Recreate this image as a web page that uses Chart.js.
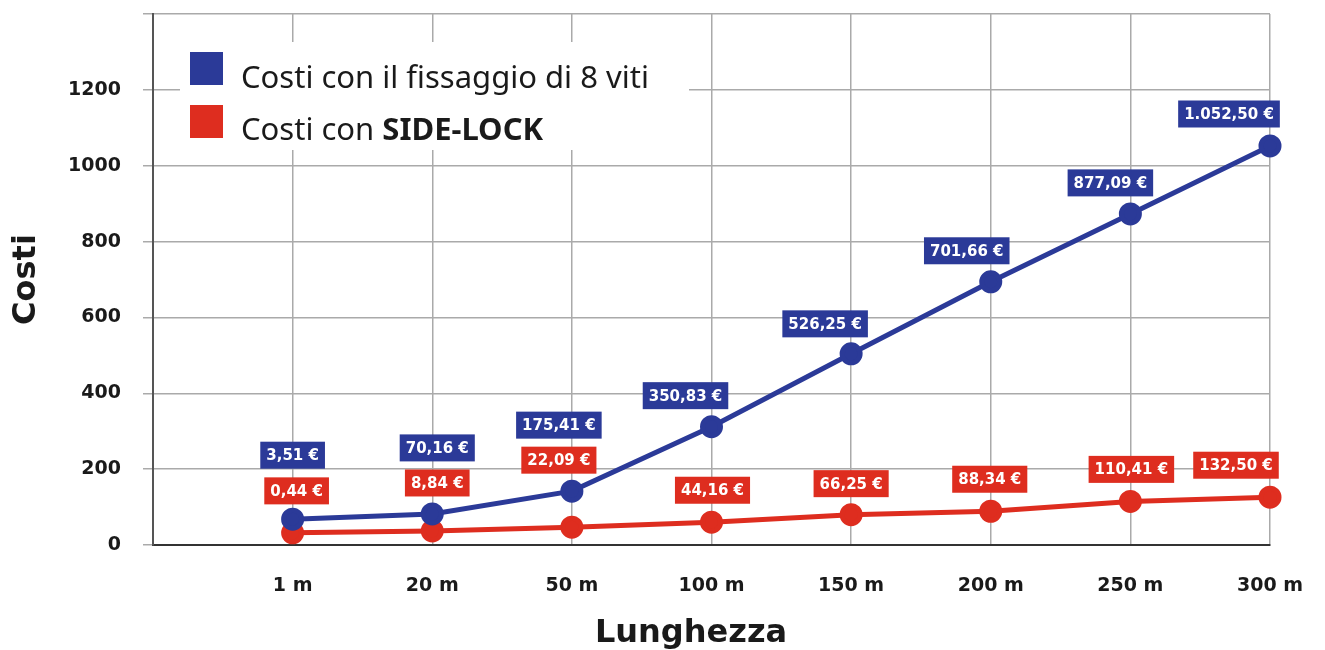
<!DOCTYPE html>
<html>
<head>
<meta charset="utf-8">
<script src="https://cdn.jsdelivr.net/npm/chart.js@4.4.1/dist/chart.umd.min.js"></script>
<style>
  html, body { margin: 0; padding: 0; background: #fff; }
  #wrap { width: 1325px; height: 650px; }
</style>
</head>
<body>
<div id="wrap"><canvas id="costChart" width="1325" height="650"></canvas></div>
<script>
// categories (first slot is empty so the first point sits one step in from the y axis)
const lengths = ["", "1 m", "20 m", "50 m", "100 m", "150 m", "200 m", "250 m", "300 m"];

// values
const screwCosts = [null, 68, 82, 142, 312, 504, 694, 873, 1052];
const sideLockCosts = [null, 32, 37, 47, 60, 80, 89, 115, 126];

// printed labels
const screwLabels = ["", "3,51 €", "70,16 €", "175,41 €", "350,83 €", "526,25 €", "701,66 €", "877,09 €", "1.052,50 €"];
const sideLockLabels = ["", "0,44 €", "8,84 €", "22,09 €", "44,16 €", "66,25 €", "88,34 €", "110,41 €", "132,50 €"];

const BLUE = "#2b3a98";
const RED = "#de2d1f";
const BOLD = "'DejaVu Sans', sans-serif";

// label box shift from its point [dx, dy]
const screwShift = [null, [0, -64], [5, -66], [-13, -66], [-26, -31], [-26, -30], [-24, -31], [-20, -31], [-41, -32]];
const sideLockShift = [null, [4, -42], [5, -48], [-13, -67], [1, -32], [0, -31], [-1, -32], [1, -32], [-34, -32]];

const valueBoxes = {
  id: "valueBoxes",
  afterDatasetsDraw(chart) {
    const ctx = chart.ctx;
    const sets = [
      { meta: chart.getDatasetMeta(0), labels: screwLabels, shift: screwShift, color: BLUE },
      { meta: chart.getDatasetMeta(1), labels: sideLockLabels, shift: sideLockShift, color: RED }
    ];
    ctx.save();
    ctx.font = "bold 15px " + BOLD;
    ctx.textAlign = "center";
    ctx.textBaseline = "middle";
    sets.forEach(s => {
      s.meta.data.forEach((pt, i) => {
        if (!s.labels[i]) return;
        const cx = pt.x + s.shift[i][0];
        const cy = pt.y + s.shift[i][1];
        const w = ctx.measureText(s.labels[i]).width + 12;
        const h = 27;
        ctx.fillStyle = s.color;
        ctx.fillRect(cx - w / 2, cy - h / 2, w, h);
        ctx.fillStyle = "#fff";
        ctx.fillText(s.labels[i], cx, cy + 1);
      });
    });
    ctx.restore();
  }
};

const boxLegend = {
  id: "boxLegend",
  afterDraw(chart) {
    const ctx = chart.ctx;
    ctx.save();
    ctx.fillStyle = "#fff";
    ctx.fillRect(180, 42, 509, 108);
    ctx.fillStyle = BLUE;
    ctx.fillRect(190, 52, 33, 33);
    ctx.fillStyle = RED;
    ctx.fillRect(190, 105, 33, 33);
    ctx.fillStyle = "#1a1a1a";
    ctx.textBaseline = "alphabetic";
    ctx.textAlign = "left";
    ctx.font = "31px 'Noto Sans', sans-serif";
    ctx.fillText("Costi con il fissaggio di 8 viti", 241, 88);
    const start = "Costi con ";
    ctx.fillText(start, 241, 140);
    const w = ctx.measureText(start).width;
    ctx.font = "bold 31px 'Noto Sans', sans-serif";
    ctx.fillText("SIDE-LOCK", 241 + w, 140);

    // x axis title sits a little left of the plot centre in the original
    ctx.font = "bold 32px " + BOLD;
    ctx.textAlign = "center";
    ctx.textBaseline = "middle";
    ctx.fillText("Lunghezza", 691, 634);
    ctx.restore();
  }
};

new Chart(document.getElementById("costChart"), {
  type: "line",
  data: {
    labels: lengths,
    datasets: [
      {
        label: "Costi con il fissaggio di 8 viti",
        data: screwCosts,
        borderColor: BLUE,
        backgroundColor: BLUE,
        borderWidth: 5,
        pointRadius: 9,
        pointHoverRadius: 9,
        tension: 0
      },
      {
        label: "Costi con SIDE-LOCK",
        data: sideLockCosts,
        borderColor: RED,
        backgroundColor: RED,
        borderWidth: 5,
        pointRadius: 9,
        pointHoverRadius: 9,
        tension: 0
      }
    ]
  },
  options: {
    responsive: false,
    animation: false,
    layout: { padding: { top: 14, right: 55, left: 0, bottom: 0 } },
    plugins: { legend: { display: false }, tooltip: { enabled: false } },
    scales: {
      x: {
        offset: false,
        afterFit(scale) {
          scale.height = 105;
          scale.paddingLeft = 0;
          scale.paddingRight = 0;
        },
        grid: { color: "#aaaaaa", lineWidth: 1.5, tickLength: 0, drawTicks: false },
        border: { color: "#333", width: 2 },
        ticks: { color: "#1a1a1a", font: { family: BOLD, weight: "bold", size: 19 }, padding: 30, autoSkip: false, maxRotation: 0 },
        title: { display: false }
      },
      y: {
        min: 0,
        max: 1400,
        afterFit(scale) {
          scale.width = 153;
          scale.paddingTop = 0;
          scale.paddingBottom = 0;
        },
        grid: { color: "#aaaaaa", lineWidth: 1.5, tickLength: 10 },
        border: { color: "#555", width: 2 },
        ticks: {
          stepSize: 200,
          color: "#1a1a1a",
          font: { family: BOLD, weight: "bold", size: 19 },
          padding: 22,
          callback: v => (v >= 1400 ? "" : v)
        },
        title: { display: true, text: "Costi", color: "#1a1a1a", font: { family: BOLD, weight: "bold", size: 32, lineHeight: 1.2 }, padding: { top: 7, bottom: 0 } }
      }
    }
  },
  plugins: [valueBoxes, boxLegend]
});
</script>
</body>
</html>
